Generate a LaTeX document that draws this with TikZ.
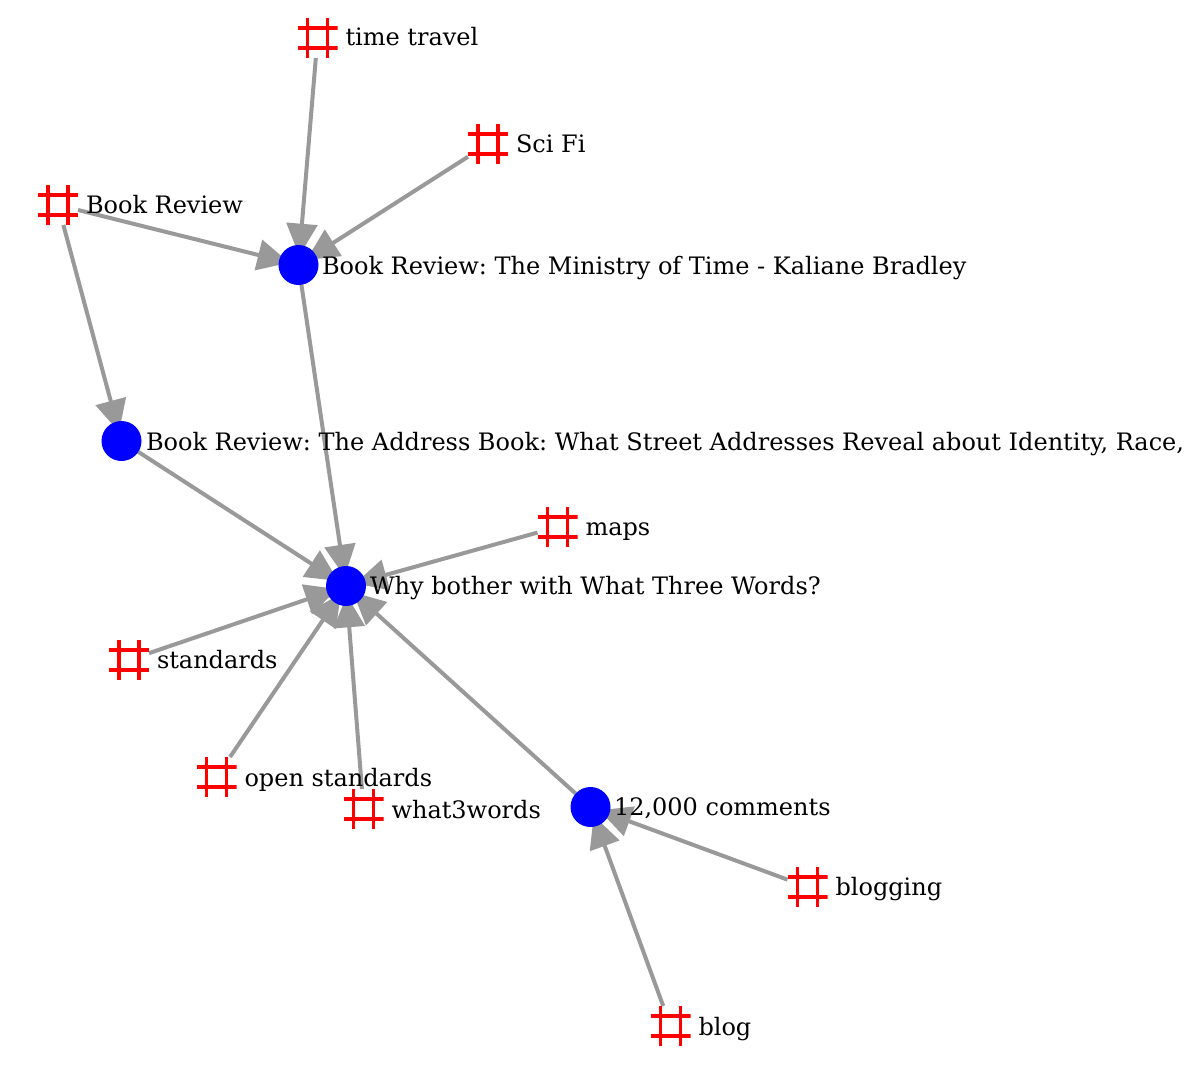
\documentclass[tikz,border=0pt]{standalone}
\usepackage{fontspec}
\setmainfont{DejaVu Serif}
\usetikzlibrary{arrows.meta,positioning,backgrounds}
\definecolor{monbleu}{RGB}{0,0,255}
\definecolor{monrouge}{RGB}{255,0,0}
\definecolor{mongris}{RGB}{153,153,153}
\tikzset{
	hashtag/.style={rectangle,minimum size=30pt,inner sep=0pt,outer sep=0pt,
		path picture={
			\draw[monrouge,line width=2.7pt]
				(path picture bounding box.north west)++(7.5pt,0pt) -- ++(0pt,-30pt)
				(path picture bounding box.north east)++(-7.5pt,0pt) -- ++(0pt,-30pt)
				(path picture bounding box.north west)++(0pt,-7.5pt) -- ++(30pt,0pt)
				(path picture bounding box.south west)++(0pt,7.5pt) -- ++(30pt,0pt);
		}},
	post/.style={circle,fill=monbleu,minimum size=30pt,inner sep=0pt,outer sep=0pt},
	lab/.style={inner sep=0pt,outer sep=0pt,font=\fontsize{18}{20}\selectfont\frenchspacing,anchor=base west},
	lien/.style={draw=mongris,line width=3pt,shorten >=-8pt,-{Triangle[length=24pt,width=23pt]}}
}
\begin{document}
\begin{tikzpicture}[x=0.75pt,y=-0.75pt]
	\useasboundingbox (0,0) rectangle (1188,1088);
	% Articles %
	\node[post] (ministry) at (298.5,265) {};
	\node[post] (address) at (121.5,441) {};
	\node[post] (why) at (346,586) {};
	\node[post] (comments) at (590.5,807) {};
	% Tags %
	\node[hashtag] (time) at (317.5,38) {};
	\node[hashtag] (scifi) at (488,144) {};
	\node[hashtag] (review) at (58,205) {};
	\node[hashtag] (maps) at (557.5,527) {};
	\node[hashtag] (standards) at (129,660) {};
	\node[hashtag] (open) at (216.5,777) {};
	\node[hashtag] (three) at (363.5,809) {};
	\node[hashtag] (blogging) at (807.5,887) {};
	\node[hashtag] (blog) at (670.5,1026) {};
	% Labels %
	\node[lab] (ministrylab) at (322,274) {Book Review: The Ministry of Time - Kaliane Bradley};
	\node[lab] (addresslab) at (146,450) {Book Review: The Address Book: What Street Addresses Reveal about Identity, Race,};
	\node[lab] (whylab) at (370,594) {Why bother with What Three Words?};
	\node[lab] (commentslab) at (614,815) {12,000 comments};
	\node[lab] (timelab) at (345.5,46) {time travel};
	\node[lab] (scifilab) at (516,152) {Sci Fi};
	\node[lab] (reviewlab) at (86,213) {Book Review};
	\node[lab] (mapslab) at (585.5,535) {maps};
	\node[lab] (standardslab) at (157,668) {standards};
	\node[lab] (openlab) at (244.5,786) {open standards};
	\node[lab] (threelab) at (391.5,818) {what3words};
	\node[lab] (blogginglab) at (835.5,895) {blogging};
	\node[lab] (bloglab) at (698.5,1035) {blog};
	% Liens %
	\begin{scope}[on background layer]
	\draw[lien] (time) -- (ministry);
	\draw[lien] (scifi) -- (ministry);
	\draw[lien] (review) -- (ministry);
	\draw[lien] (review) -- (address);
	\draw[lien] (ministry) -- (why);
	\draw[lien] (address) -- (why);
	\draw[lien] (maps) -- (why);
	\draw[lien] (standards) -- (why);
	\draw[lien] (open) -- (why);
	\draw[lien] (three) -- (why);
	\draw[lien] (comments) -- (why);
	\draw[lien] (blogging) -- (comments);
	\draw[lien] (blog) -- (comments);
	\end{scope}
\end{tikzpicture}
\end{document}
